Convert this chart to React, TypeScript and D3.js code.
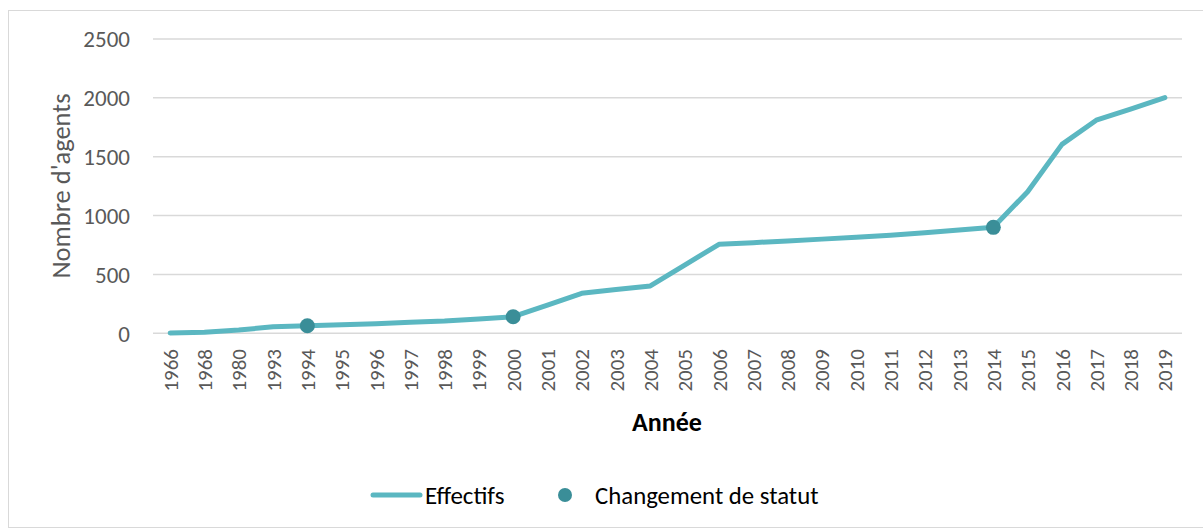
import React from "react";
import * as d3 from "d3";

const years = ["1966","1968","1980","1993","1994","1995","1996","1997","1998","1999","2000","2001","2002","2003","2004","2005","2006","2007","2008","2009","2010","2011","2012","2013","2014","2015","2016","2017","2018","2019"];
const effectifs = [3,8,28,55,64,72,82,93,104,122,141,240,340,372,402,580,756,770,785,800,815,833,855,878,900,1203,1605,1810,1905,2002];
const changementYears = ["1994","2000","2014"];
const yTicks = [0,500,1000,1500,2000,2500];

const W = 1203, H = 530;
const FONT = "Carlito, Calibri, Lato, 'Open Sans', sans-serif";

export default function App() {
  const x = d3.scaleBand().domain(years).range([153, 1182]);
  const y = d3.scaleLinear().domain([0, 2500]).range([333.3, 39]);
  const cx = (d: string) => (x(d) as number) + x.bandwidth() / 2;
  const line = d3.line<number>().x((_, i) => cx(years[i])).y((v) => y(v));
  const grid = "#D9D9D9";
  const txt = "#595959";
  const lineCol = "#5BB7C1";
  const dotCol = "#3A8E98";
  return (
    <svg width={W} height={H} style={{ position: "absolute", left: 0, top: 0 }} fontFamily={FONT}>
      <rect x={0} y={0} width={W} height={H} fill="#fff" />
      <rect x={8.5} y={10.5} width={1200} height={517} fill="none" stroke={grid} strokeWidth={1} />
      {yTicks.map((t) => (
        <g key={t}>
          <line x1={153} x2={1182} y1={y(t)} y2={y(t)} stroke={grid} strokeWidth={1.5} />
          <text x={130} y={y(t)} dy="0.36em" textAnchor="end" fontSize={23} fill={txt}>{t}</text>
        </g>
      ))}
      <text transform={`translate(61,186) rotate(-90)`} textAnchor="middle" dy="0.35em" fontSize={26.5} fill={txt}>Nombre d'agents</text>
      {years.map((yr) => (
        <text key={yr} transform={`translate(${cx(yr)},349) rotate(-90)`} textAnchor="end" dy="0.36em" fontSize={21} fill={txt}>{yr}</text>
      ))}
      <text x={667} y={422} textAnchor="middle" dy="0.36em" fontSize={26} fontWeight="bold" fill="#000">Année</text>
      <path d={line(effectifs) || ""} fill="none" stroke={lineCol} strokeWidth={5} strokeLinejoin="round" strokeLinecap="round" />
      {changementYears.map((yr) => (
        <circle key={yr} cx={cx(yr)} cy={y(effectifs[years.indexOf(yr)])} r={7.5} fill={dotCol} />
      ))}
      <line x1={373} x2={420} y1={495} y2={495} stroke={lineCol} strokeWidth={5} strokeLinecap="round" />
      <text x={425} y={495} dy="0.36em" fontSize={25} fill="#000">Effectifs</text>
      <circle cx={565} cy={495} r={7} fill={dotCol} />
      <text x={595} y={495} dy="0.36em" fontSize={24.8} fill="#000">Changement de statut</text>
    </svg>
  );
}
